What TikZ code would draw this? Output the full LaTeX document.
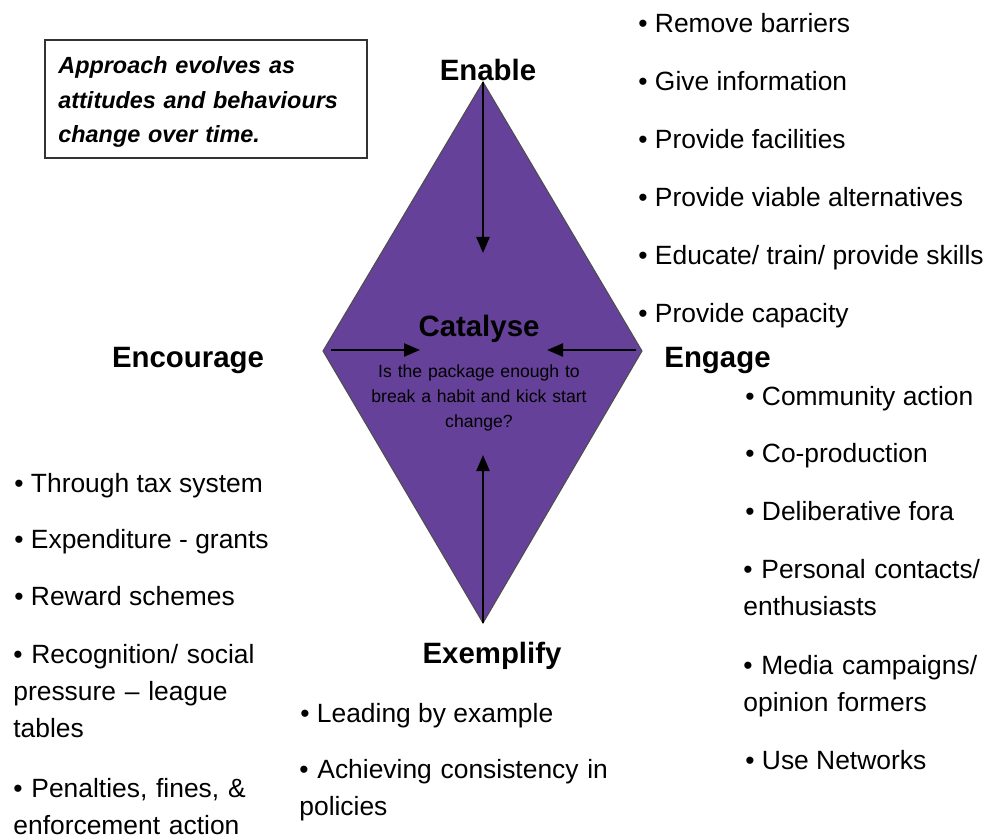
\documentclass[tikz,border=0pt]{standalone}
\usepackage{fontspec}
\setmainfont{Liberation Sans}
\usetikzlibrary{arrows.meta}
\definecolor{catpurple}{RGB}{102,65,153}
\tikzset{>={Triangle[length=8pt,width=6.5pt]}}
\tikzset{
  heading/.style={font=\fontsize{14.7}{17}\selectfont\bfseries, inner sep=0pt, anchor=base},
  item/.style={font=\fontsize{13.2}{18.5}\selectfont, inner sep=0pt, anchor=base west},
  wrapitem/.style={item, text width=#1, align=left},
  spoke/.style={->, line width=1.2pt},
}
\begin{document}
\begin{tikzpicture}[x=0.5pt,y=-0.5pt]
    \useasboundingbox (0,0) rectangle (988,839);
    % diamond
    \coordinate (top) at (483,82);
    \coordinate (right) at (642,351);
    \coordinate (bottom) at (483,623);
    \coordinate (left) at (323,351);
    \draw[draw=black!70, fill=catpurple, line width=0.5pt] (top) -- (right) -- (bottom) -- (left) -- cycle;
    \coordinate (ctop) at (483,253);
    \coordinate (cright) at (547,350);
    \coordinate (cbottom) at (483,455);
    \coordinate (cleft) at (420,350);
    \draw[spoke] (top) -- (ctop);
    \draw[spoke] (bottom) -- (cbottom);
    \draw[spoke, shorten <=4pt] (left |- cleft) -- (cleft);
    \draw[spoke, shorten <=3pt] (right |- cright) -- (cright);

    \node[heading] (enable) at (488,81) {Enable};
    \node[heading] (catalyse) at (479,336) {Catalyse};
    \node[heading] (encourage) at (188,367) {Encourage};
    \node[heading, anchor=base west] (engage) at (664,367) {Engage};
    \node[heading] (exemplify) at (492,663) {Exemplify};
    \node[font=\fontsize{8.8}{12.5}\selectfont, inner sep=0pt, anchor=base, text width=120pt, align=center] (question) at (479,377)
        {Is the package enough to\\break a habit and kick start\\change?};

    % note box
    \draw[black!80, line width=0.7pt] (45,40) rectangle (367,158);
    \node[font=\fontsize{11.7}{17.2}\selectfont\bfseries\itshape, inner sep=0pt, anchor=base west, text width=150pt, align=left] (note) at (58,74)
        {Approach evolves as\\attitudes and behaviours\\change over time.};

    % lists
    \foreach \t [count=\i] in {Remove barriers, Give information, Provide facilities, Provide viable alternatives, Educate/ train/ provide skills, Provide capacity}
        \node[item] (enable\i) at (638,{33+57.8*(\i-1)}) {• \t};
    \foreach \t [count=\i] in {Community action, Co-production, Deliberative fora}
        \node[item] (engage\i) at (745,{405+57.5*(\i-1)}) {• \t};
    \node[wrapitem=130pt] (engage4) at (743,578) {• Personal contacts/\\enthusiasts};
    \node[wrapitem=130pt] (engage5) at (743,674) {• Media campaigns/\\opinion formers};
    \node[item] (engage6) at (745,769) {• Use Networks};
    \foreach \t [count=\i] in {Through tax system, Expenditure - grants, Reward schemes}
        \node[item] (encourage\i) at (14,{492+56.5*(\i-1)}) {• \t};
    \node[wrapitem=130pt] (encourage4) at (13,663) {• Recognition/ social\\pressure – league\\tables};
    \node[wrapitem=130pt] (encourage5) at (13,797) {• Penalties, fines, \&\\enforcement action};
    \node[item] (exemplify1) at (300,722) {• Leading by example};
    \node[wrapitem=160pt] (exemplify2) at (299,778) {• Achieving consistency in\\policies};
\end{tikzpicture}
\end{document}
